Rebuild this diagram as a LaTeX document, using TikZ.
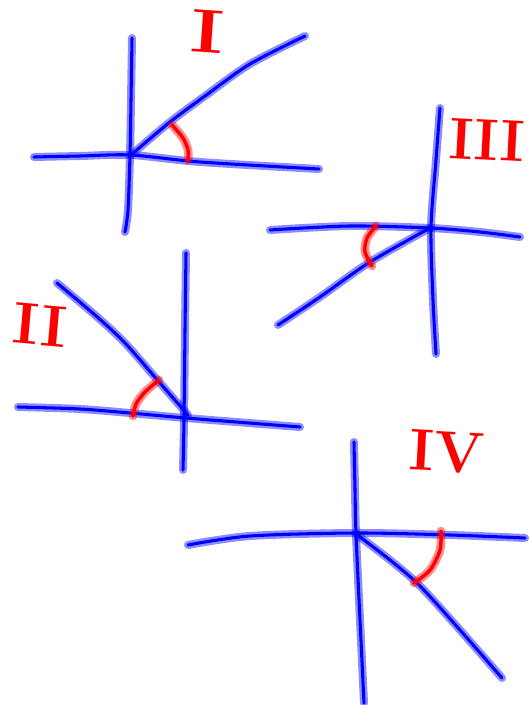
\documentclass[tikz,border=0pt]{standalone}
\begin{document}
\begin{tikzpicture}[x=0.75pt,y=-0.75pt,
  bl/.style={draw=blue, line width=2.3pt, line cap=round, line join=round,
    preaction={draw=blue, draw opacity=0.45, line width=6pt, line cap=round, line join=round}},
  rd/.style={draw=red, line width=2.6pt, line cap=round, line join=round,
    preaction={draw=red, draw opacity=0.45, line width=6.5pt, line cap=round, line join=round}},
  lbl/.style={text=red, font=\fontsize{44}{44}\selectfont\bfseries, inner sep=0pt}]
\useasboundingbox (0,0) rectangle (530,705);
% ---------- I ----------
\coordinate (o1) at (131,155);
\draw[bl] plot[smooth] coordinates {(132,38) (131,100) (130,155) (128,210) (125,232)};
\draw[bl] plot[smooth] coordinates {(34,157) (80,156) (131,155) (200,162) (319,169)};
\draw[bl] plot[smooth] coordinates {(131,155) (170,122) (205,96) (250,64) (305,36)};
\draw[rd] plot[smooth] coordinates {(172,125) (183,138) (188,150) (188,160)};
\node[lbl, rotate=-4, xscale=1.35, yscale=1.05] (l1) at (208,32) {I};
% ---------- III ----------
\coordinate (o3) at (430,228);
\draw[bl] plot[smooth] coordinates {(440,108) (436,160) (431,228) (433,300) (436,354)};
\draw[bl] plot[smooth] coordinates {(270,230) (350,226) (430,228) (480,232) (520,237)};
\draw[bl] plot[smooth] coordinates {(430,228) (370,262) (320,297) (278,325)};
\draw[rd] plot[smooth] coordinates {(376,226) (367,238) (365,252) (372,266)};
\node[lbl, rotate=-3, xscale=0.98] (l3) at (487,140) {III};
% ---------- II ----------
\coordinate (o2) at (186,418);
\draw[bl] plot[smooth] coordinates {(186,253) (185,330) (184,420) (183,470)};
\draw[bl] plot[smooth] coordinates {(18,407) (80,409) (130,413) (186,418) (300,427)};
\draw[bl] plot[smooth] coordinates {(57,283) (95,315) (125,343) (160,383) (188,415)};
\draw[rd] plot[smooth] coordinates {(159,380) (145,392) (136,404) (133,416)};
\node[lbl, rotate=-5, xscale=1.05] (l2) at (40,325) {II};
% ---------- IV ----------
\coordinate (o4) at (356,534);
\draw[bl] plot[smooth] coordinates {(354,442) (355,490) (356,534) (360,620) (364,703)};
\draw[bl] plot[smooth] coordinates {(188,545) (250,536) (356,533) (450,535) (525,538)};
\draw[bl] plot[smooth] coordinates {(356,534) (390,560) (420,586) (460,630) (502,678)};
\draw[rd] plot[smooth] coordinates {(441,531) (440,550) (430,570) (414,583)};
\node[lbl, rotate=-3, xscale=1.0] (l4) at (447,452) {IV};
\end{tikzpicture}
\end{document}
